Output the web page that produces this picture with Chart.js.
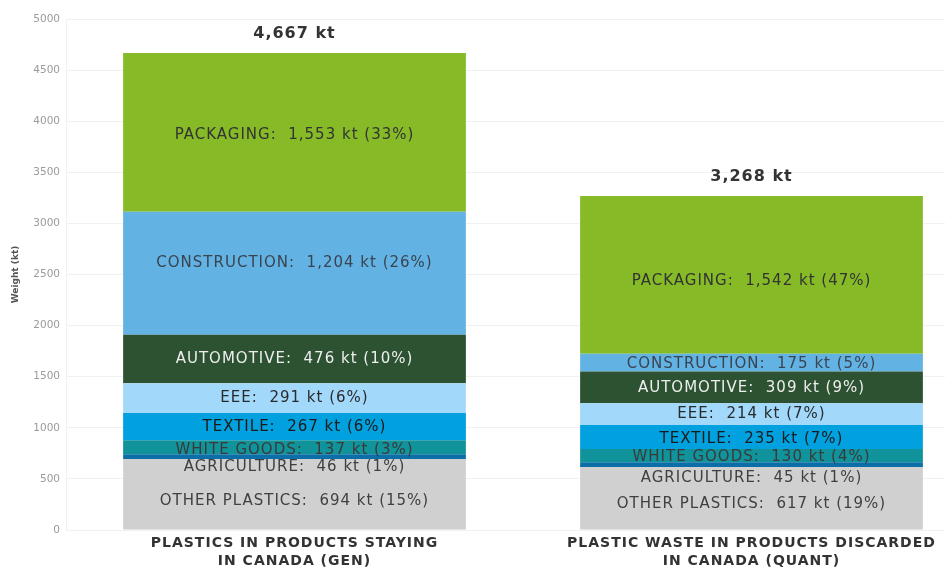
<!DOCTYPE html>
<html>
<head>
<meta charset="utf-8">
<script src="https://cdn.jsdelivr.net/npm/chart.js@4.4.1/dist/chart.umd.min.js"></script>
<style>
    html, body { margin: 0; padding: 0; background: #fff; overflow: hidden; }
    #wrap { position: relative; width: 980px; height: 569px; }
</style>
</head>
<body>
<div id="wrap"><canvas id="myChart"></canvas></div>
<script>
// Categorias (dos columnas apiladas)
const categories = [
    ['PLASTICS IN PRODUCTS STAYING', 'IN CANADA (GEN)'],
    ['PLASTIC WASTE IN PRODUCTS DISCARDED', 'IN CANADA (QUANT)']
];
const sectors = ['OTHER PLASTICS', 'AGRICULTURE', 'WHITE GOODS', 'TEXTILE', 'EEE', 'AUTOMOTIVE', 'CONSTRUCTION', 'PACKAGING'];

// kt por sector, de abajo hacia arriba
const otherPlastics = [694, 617];
const agriculture   = [46, 45];
const whiteGoods    = [137, 130];
const textile       = [267, 235];
const eee           = [291, 214];
const automotive    = [476, 309];
const construction  = [1204, 175];
const packaging     = [1553, 1542];
const totals        = [4667, 3268];

const yMax = 5000;
const yStep = 500;

const colors = ['#d0d0d0', '#0b6ea6', '#10939a', '#00a1de', '#a2d9fb', '#2c5232', '#62b3e4', '#86bb27'];
const textColors = ['#404040', '#404040', '#3a3a3a', '#1a1a1a', '#2a2a2a', '#eeeeee', '#3a4450', '#333333'];
// desplazamiento vertical de cada etiqueta (px) por columna
const labelShift = [[7, 6], [10, 13], [3, 1], [0, 2], [0, 0], [0, 1], [-10, 1], [3, 6]];

const series = [otherPlastics, agriculture, whiteGoods, textile, eee, automotive, construction, packaging];

const fmt = (n) => n.toLocaleString('en-US');

const segmentLabels = {
    id: 'segmentLabels',
    afterDatasetsDraw(chart) {
        const ctx = chart.ctx;
        ctx.save();
        ctx.textAlign = 'center';
        ctx.textBaseline = 'middle';
        ctx.letterSpacing = '1px';
        ctx.font = '15px "DejaVu Sans"';
        chart.data.datasets.forEach((ds, i) => {
            const meta = chart.getDatasetMeta(i);
            meta.data.forEach((bar, j) => {
                const v = ds.data[j];
                const pct = Math.round(v / totals[j] * 100);
                const y = (bar.y + bar.base) / 2 + labelShift[i][j];
                ctx.fillStyle = textColors[i];
                ctx.fillText(sectors[i] + ':  ' + fmt(v) + ' kt (' + pct + '%)', bar.x, y);
            });
        });
        // totales encima de cada columna
        const top = chart.getDatasetMeta(chart.data.datasets.length - 1);
        ctx.font = 'bold 16px "DejaVu Sans"';
        ctx.fillStyle = '#333333';
        top.data.forEach((bar, j) => {
            ctx.fillText(fmt(totals[j]) + ' kt', bar.x, bar.y - 19);
        });
        ctx.restore();
    },
    afterDraw(chart) {
        // nombres de las categorias bajo el eje x
        const ctx = chart.ctx;
        const xs = chart.scales.x;
        const bottom = chart.chartArea.bottom;
        ctx.save();
        ctx.textAlign = 'center';
        ctx.textBaseline = 'middle';
        ctx.letterSpacing = '1px';
        ctx.font = 'bold 14px "DejaVu Sans"';
        ctx.fillStyle = '#333333';
        categories.forEach((lines, j) => {
            const x = xs.getPixelForValue(j);
            lines.forEach((line, k) => {
                ctx.fillText(line, x, bottom + 13 + k * 18);
            });
        });
        ctx.restore();
    }
};

const data = {
    labels: categories,
    datasets: series.map((vals, i) => ({
        label: sectors[i],
        data: vals,
        backgroundColor: colors[i],
        borderWidth: 0,
        barPercentage: 0.75,
        categoryPercentage: 1
    }))
};

const config = {
    type: 'bar',
    data: data,
    options: {
        responsive: true,
        maintainAspectRatio: false,
        animation: false,
        layout: { padding: { top: 19, right: 0, left: 0, bottom: 0 } },
        plugins: {
            legend: { display: false },
            tooltip: { enabled: false }
        },
        scales: {
            x: {
                stacked: true,
                grid: { display: false },
                border: { display: false },
                ticks: { display: false },
                afterFit: (scale) => { scale.height = 39; }
            },
            y: {
                stacked: true,
                min: 0,
                max: yMax,
                grid: { color: '#f1f1f1', drawTicks: false },
                border: { color: '#f1f1f1' },
                ticks: {
                    stepSize: yStep,
                    color: '#9a9a9a',
                    font: { family: 'DejaVu Sans', size: 10.5 },
                    padding: 6,
                    callback: (value) => String(value)
                },
                title: {
                    display: true,
                    text: 'Weight (kt)',
                    color: '#555555',
                    font: { family: 'DejaVu Sans', size: 9, weight: 'bold' },
                    padding: { top: 10, bottom: 0 }
                },
                afterFit: (scale) => { scale.width = 66; }
            }
        }
    },
    plugins: [segmentLabels]
};

new Chart(document.getElementById('myChart'), config);
</script>
</body>
</html>
